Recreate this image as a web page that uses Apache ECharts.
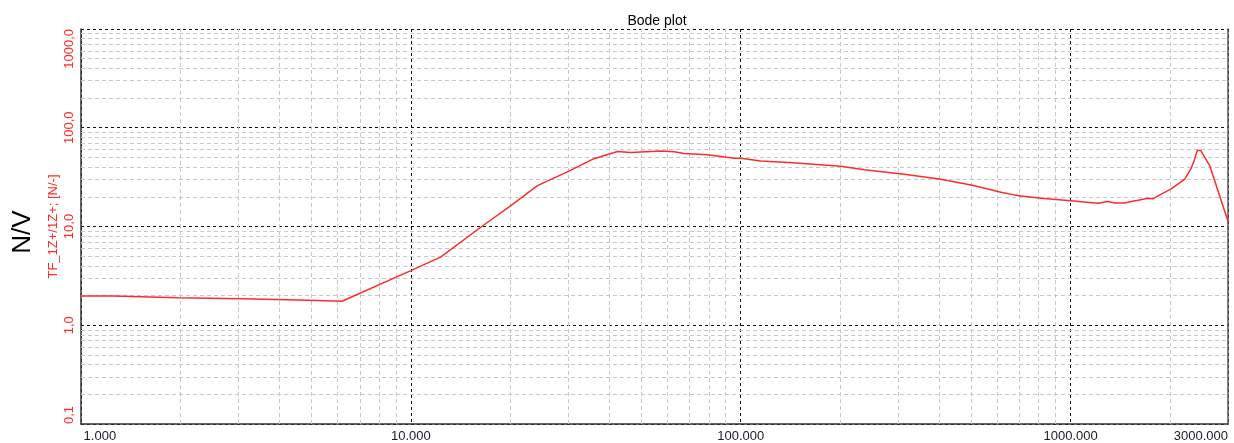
<!DOCTYPE html>
<html>
<head>
<meta charset="utf-8">
<script src="https://cdn.jsdelivr.net/npm/echarts@6/dist/echarts.min.js"></script>
<style>
html,body{margin:0;padding:0;background:#fff;}
#c{width:1234px;height:443px;}
</style>
</head>
<body>
<div id="c"></div>
<script>
// Frequency (x) and magnitude (y)
const freq = [1, 1.25, 1.26, 1.97, 1.98, 3.08, 3.1, 4.9, 4.95, 6.18, 10, 12.3, 16.4, 20.0, 24.2, 29.8, 35.9, 42.3, 46.4, 57.2, 62.8, 67.3, 79.3, 95.5, 100, 115, 143.5, 201, 237, 313, 400, 499, 561, 615, 675, 708, 814, 1000, 1209, 1297, 1360, 1457, 1527, 1600, 1716, 1778, 1842, 2018, 2219, 2325, 2376, 2421, 2478, 2643, 3000];
const mag  = [1.98, 1.98, 1.90, 1.90, 1.85, 1.85, 1.79, 1.79, 1.75, 1.75, 3.57, 4.9, 10.0, 16.1, 25.9, 35.7, 48.6, 57.5, 56.2, 58.2, 57.0, 54.9, 53.2, 49.0, 49.0, 46.0, 44.2, 40.7, 37.6, 33.9, 30.2, 26.3, 24.0, 22.2, 20.9, 20.4, 19.3, 18.2, 17.2, 17.9, 17.3, 17.3, 17.9, 18.4, 19.3, 19.05, 20.4, 24.0, 30.2, 39.5, 47.9, 59.0, 59.0, 41.0, 11.3];
const xRange = [1, 3000];
const yRange = [0.1, 1000];
const xMinor = [2,3,4,5,6,7,8,9,20,30,40,50,60,70,80,90,200,300,400,500,600,700,800,900,2000];
const yMinor = [0.2,0.3,0.4,0.5,0.6,0.7,0.8,0.9,2,3,4,5,6,7,8,9,20,30,40,50,60,70,80,90,200,300,400,500,600,700,800,900];
const titleText = 'Bode plot';
const yName = 'TF_1Z+/1Z+; [N/-]';
const unitText = 'N/V';

const FONT = '"Liberation Sans", Arial, sans-serif';
const chart = echarts.init(document.getElementById('c'));
const seriesData = freq.map((f, i) => [f, mag[i]]);
const minorLines = xMinor.map(v => ({xAxis: v})).concat(yMinor.map(v => ({yAxis: v})));

chart.setOption({
  animation: false,
  textStyle: {fontFamily: FONT},
  title: {
    text: titleText,
    left: 652, top: 9, textAlign: 'center',
    textStyle: {fontSize: 14, fontWeight: 'normal', color: '#000', fontFamily: FONT}
  },
  grid: {left: 81, right: 6, top: 29, bottom: 16, containLabel: false},
  graphic: [{
    type: 'text', x: 23, y: 232, rotation: Math.PI / 2,
    style: {text: unitText, fontSize: 26, fill: '#000', align: 'center', verticalAlign: 'middle', fontFamily: FONT}
  }],
  xAxis: {
    type: 'log', logBase: 10, min: xRange[0], max: xRange[1],
    axisLine: {show: true, lineStyle: {color: '#333', width: 1.5}},
    axisTick: {show: false},
    axisLabel: {
      color: '#1a1a2a', fontSize: 13, margin: 6, fontFamily: FONT,
      alignMinLabel: 'left', alignMaxLabel: 'right',
      formatter: v => (Number(v) === xRange[0] ? '\u2009' : '') + Number(v).toFixed(3)
    },
    splitLine: {show: true, lineStyle: {color: '#111', type: [3, 3], width: 1}}
  },
  yAxis: [{
    type: 'log', logBase: 10, min: yRange[0], max: yRange[1],
    name: yName, nameLocation: 'middle', nameGap: 21, nameMoveOverlap: false,
    nameTextStyle: {color: '#ff2a2a', fontSize: 13, fontFamily: FONT},
    axisLine: {show: true, lineStyle: {color: '#333', width: 1.5}},
    axisTick: {show: false},
    axisLabel: {
      color: '#ff2a2a', fontSize: 13, margin: 5, rotate: 90, fontFamily: FONT,
      alignMinLabel: 'left', alignMaxLabel: 'right',
      formatter: v => String(Number(v).toFixed(1)).split('.').join(',')
    },
    splitLine: {show: true, lineStyle: {color: '#111', type: [3, 3], width: 1}}
  }, {
    type: 'log', logBase: 10, min: yRange[0], max: yRange[1], position: 'right',
    axisLine: {show: true, lineStyle: {color: '#555', width: 1.5}},
    axisTick: {show: false}, axisLabel: {show: false}, splitLine: {show: false}
  }],
  series: [{
    type: 'line', yAxisIndex: 0, z: 3,
    data: seriesData, showSymbol: false, symbol: 'none',
    lineStyle: {color: '#ff2a2a', width: 1.5},
    markLine: {
      silent: true, symbol: ['none', 'none'], z: 1,
      label: {show: false},
      lineStyle: {color: '#c8c8c8', type: [4, 3], width: 1},
      emphasis: {disabled: true},
      data: minorLines
    }
  }]
});
</script>
</body>
</html>
